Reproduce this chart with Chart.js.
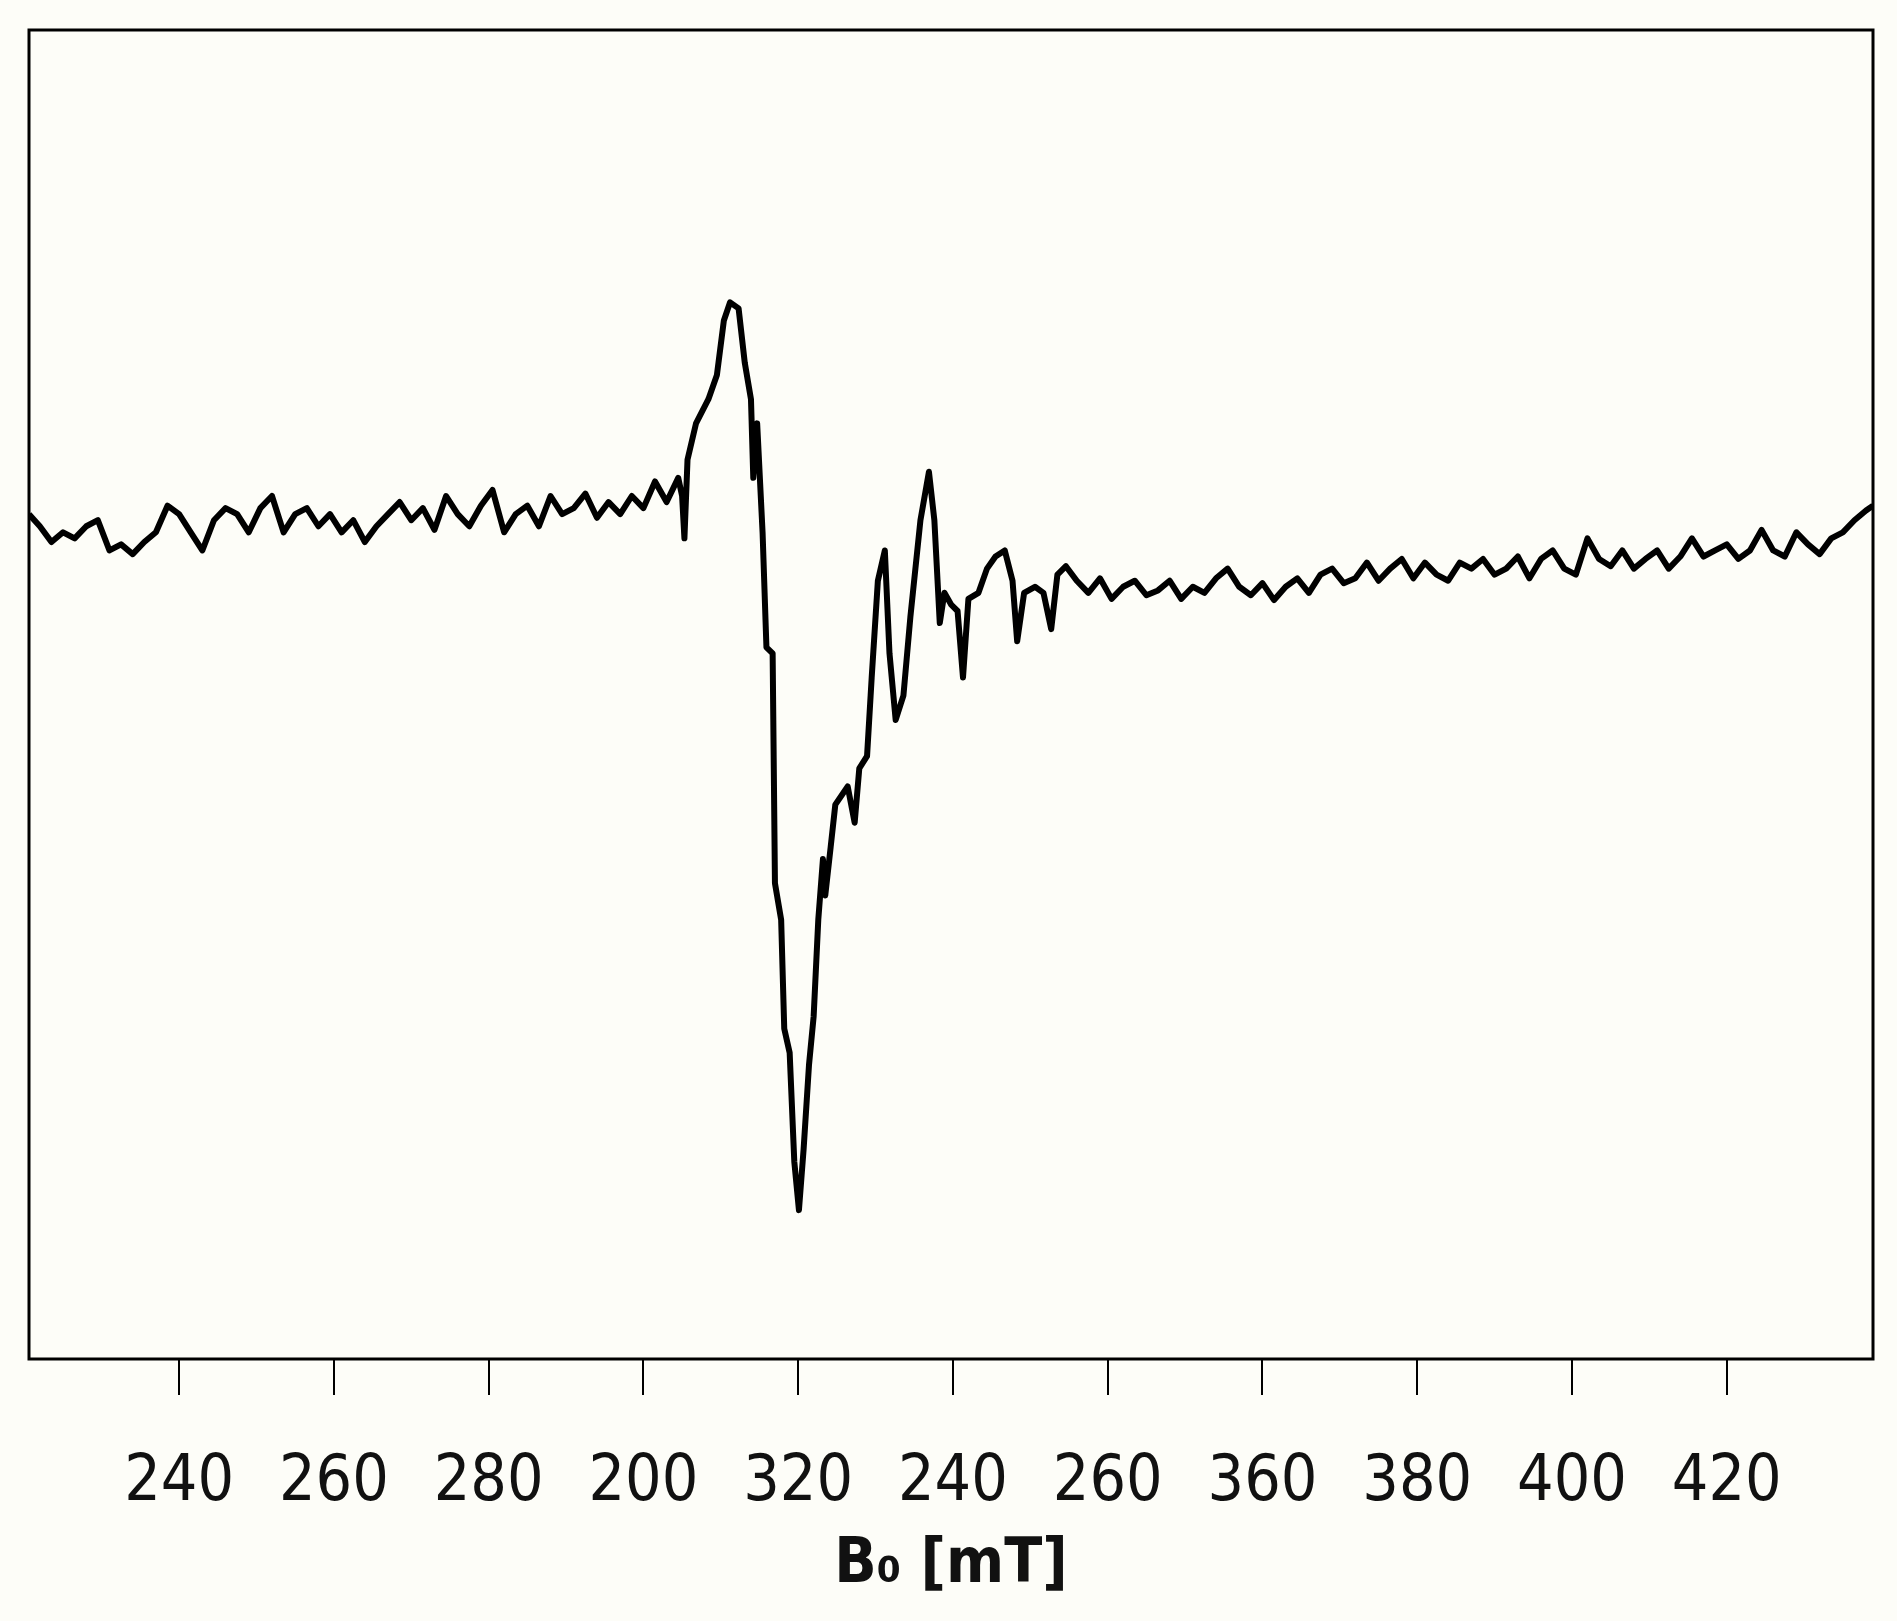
<!DOCTYPE html>
<html><head><meta charset="utf-8">
<script src="https://cdn.jsdelivr.net/npm/chart.js@4"></script>
<style>html,body{margin:0;background:#fdfdf8}canvas{display:block}</style>
</head><body>
<canvas id="c" width="1897" height="1621" style="width:1897px;height:1621px"></canvas>
<script>
// tick positions (mT) and the labels printed under them in the figure
const tickPos = [240,260,280,300,320,340,360,380,400,420,440];
const tickLabels = ['240','260','280','200','320','240','260','360','380','400','420'];

// field (mT) and signal (picture height, larger = lower)
const field = [220.6,222,223.5,225,226.5,228,229.5,231,232.5,234,235.5,237,238.5,240,241.5,243,244.5,246,247.5,249,250.5,252,253.5,255,256.5,258,259.5,261,262.5,264,265.5,267,268.5,270,271.5,273,274.5,276,277.5,279,280.5,282,283.5,285,286.5,288,289.5,291,292.5,294,295.5,297,298.5,300,301.5,303,304.5,305,
305.3,305.7,306.8,308.4,309.5,310.4,311.2,312.3,313.1,313.9,314.2,314.7,315.4,315.9,316.7,317.0,317.8,318.2,318.9,319.5,320.1,320.7,321.4,322.0,322.6,323.2,323.5,324.2,324.8,326.4,327.3,327.9,328.9,329.5,330.3,331.2,331.8,332.6,333.6,334.5,335.8,336.9,337.6,338.3,338.9,339.8,340.6,341.3,342.0,343.3,344.4,345.5,346.7,347.7,348.3,349.2,350.6,351.7,352.7,353.5,354.6,
356,357.5,359,360.5,362,363.5,365,366.5,368,369.5,371,372.5,374,375.5,377,378.5,380,381.5,383,384.5,386,387.5,389,390.5,392,393.5,395,396.5,398,399.5,401,402.5,404,405.5,407,408.5,410,411.5,413,414.5,416,417.5,419,420.5,422,423.5,425,426.5,428,429.5,431,432.5,434,435.5,437,438.5,440,441.5,443,444.5,446,447.5,449,450.5,452,453.5,455,456.5,458,458.9];
const signal = [425,435,448,440,445,435,430,455,450,458,448,440,418,425,440,455,430,420,425,440,420,410,440,425,420,435,425,440,430,448,435,425,415,430,420,438,410,425,435,418,405,440,425,418,435,410,425,420,408,428,415,425,410,420,398,415,395,410,
445,380,350,330,310,265,250,255,300,330,395,350,440,535,540,730,760,850,870,960,1000,950,880,840,760,710,740,700,665,650,680,635,625,560,480,455,540,595,575,510,430,390,430,515,490,500,505,560,495,490,470,460,455,480,530,490,485,490,520,475,468,
480,490,478,495,485,480,492,488,480,495,485,490,478,470,485,492,482,496,485,478,490,475,470,482,478,465,480,470,462,478,465,475,480,465,470,462,475,470,460,478,462,455,470,475,445,462,468,455,470,462,455,470,460,445,460,455,450,462,455,438,455,460,440,450,458,445,440,430,422,418];

const frame = {
  id: 'frame',
  beforeDraw(ch){ const c=ch.ctx; c.save(); c.fillStyle='#fdfdf8'; c.fillRect(0,0,ch.width,ch.height); c.restore(); },
  afterDraw(ch){ const a=ch.chartArea, c=ch.ctx; c.save(); c.strokeStyle='#000'; c.lineWidth=3; c.strokeRect(a.left,a.top,a.right-a.left,a.bottom-a.top); c.restore(); }
};

new Chart(document.getElementById('c'), {
  type: 'line',
  data: { datasets: [{ data: field.map((x,i)=>({x, y: signal[i]})), borderColor:'#000', borderWidth:6, pointRadius:0, tension:0, borderJoinStyle:'round' }] },
  options: {
    responsive:false, devicePixelRatio:1, animation:false,
    layout:{ padding:{ left:29, top:30, right:24, bottom:0 } },
    plugins:{ legend:{display:false}, tooltip:{enabled:false} },
    scales:{
      x:{ type:'linear', min:220.6, max:458.9,
        afterBuildTicks: s => { s.ticks = tickPos.map(v=>({value:v})); },
        afterFit: s => { s.height = 262; },
        grid:{ drawOnChartArea:false, color:'#000', lineWidth:2, tickLength:36 },
        border:{ display:false },
        ticks:{ color:'#111', padding:50, maxRotation:0, autoSkip:false,
          font:{ family:'DejaVu Sans Condensed, DejaVu Sans', size:64 },
          callback: (v,i) => tickLabels[i] },
        title:{ display:true, text:'B₀ [mT]', color:'#111', padding:{top:0,bottom:18},
          font:{ family:'DejaVu Sans Condensed, DejaVu Sans', size:62, weight:'bold' } }
      },
      y:{ display:false, reverse:true, min:25, max:1123 }
    }
  },
  plugins:[frame]
});
</script>
</body></html>
